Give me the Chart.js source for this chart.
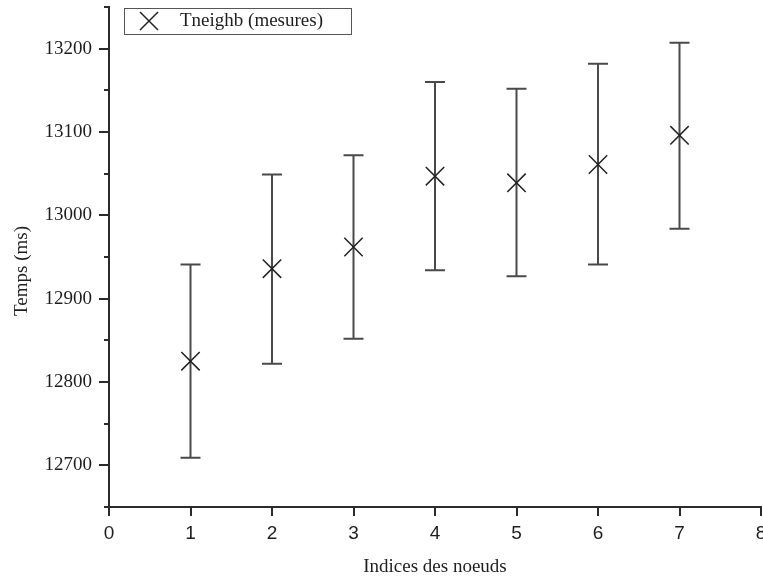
<!DOCTYPE html>
<html>
<head>
<meta charset="utf-8">
<script src="https://cdn.jsdelivr.net/npm/chart.js@4/dist/chart.umd.min.js"></script>
<style>
    html, body { margin:0; padding:0; background:#fff; }
    #grafica { display:block; }
</style>
</head>
<body>
<canvas id="grafica" width="763" height="579"></canvas>
<script>
// --datos
var indices   = [1, 2, 3, 4, 5, 6, 7];
var tiempos   = [12825, 12936, 12962, 13047, 13039, 13061, 13096];
var errorBajo = [12709, 12822, 12852, 12934, 12927, 12941, 12984];
var errorAlto = [12941, 13049, 13072, 13160, 13152, 13182, 13207];
var ticksX    = [0, 1, 2, 3, 4, 5, 6, 7, 8];

var colorEje = '#2b2b2b';
var colorTexto = '#1e1e1e';
var serif = "'Liberation Serif', 'Times New Roman', serif";
var sans = "'Liberation Sans', Arial, sans-serif";

var puntos = [];
indices.forEach(function(x, i){
    puntos.push({x: x, y: tiempos[i]});
});

function sinPadding(){
    return {left: 0, top: 0, right: 0, bottom: 0};
}

// barras de error y marcas de los ejes
var pluginExtras = {
    id: 'extras',
    beforeLayout: function(chart){
        // que las etiquetas no empujen el area del grafico (el "8" queda cortado)
        Object.keys(chart.scales).forEach(function(k){
            chart.scales[k].getPadding = sinPadding;
        });
    },
    beforeDatasetsDraw: function(chart){
        var ctx = chart.ctx;
        var sx = chart.scales.x;
        var sy = chart.scales.y;
        ctx.save();
        ctx.strokeStyle = '#4a4a4a';
        ctx.lineWidth = 2;
        indices.forEach(function(x, i){
            var px = sx.getPixelForValue(x);
            var yb = sy.getPixelForValue(errorBajo[i]);
            var ya = sy.getPixelForValue(errorAlto[i]);
            ctx.beginPath();
            ctx.moveTo(px, yb); ctx.lineTo(px, ya);
            ctx.moveTo(px - 10, ya); ctx.lineTo(px + 10, ya);
            ctx.moveTo(px - 10, yb); ctx.lineTo(px + 10, yb);
            ctx.stroke();
        });
        ctx.restore();
    },
    afterDraw: function(chart){
        var ctx = chart.ctx;
        var sx = chart.scales.x;
        var sy = chart.scales.y;
        var area = chart.chartArea;
        ctx.save();
        ctx.strokeStyle = colorEje;
        ctx.lineWidth = 2;
        ctx.beginPath();
        sy.ticks.forEach(function(t){
            var py = Math.round(sy.getPixelForValue(t.value));
            var largo = (t.value % 100 === 0) ? 10 : 5;
            ctx.moveTo(area.left, py); ctx.lineTo(area.left - largo, py);
        });
        ticksX.forEach(function(v){
            var px = Math.round(sx.getPixelForValue(v));
            ctx.moveTo(px, area.bottom); ctx.lineTo(px, area.bottom + 9);
        });
        ctx.stroke();

        // titulos de los ejes
        ctx.fillStyle = colorTexto;
        ctx.font = '19px ' + serif;
        ctx.textAlign = 'center';
        ctx.textBaseline = 'middle';
        ctx.fillText('Indices des noeuds', (area.left + area.right) / 2, 567);
        ctx.translate(22, 271);
        ctx.rotate(-Math.PI / 2);
        ctx.fillText('Temps (ms)', 0, 0);
        ctx.restore();

        // leyenda
        ctx.save();
        ctx.strokeStyle = '#555';
        ctx.lineWidth = 1;
        ctx.strokeRect(124.5, 8.5, 227, 26);
        ctx.strokeStyle = '#222';
        ctx.lineWidth = 1.5;
        ctx.beginPath();
        ctx.moveTo(140, 12); ctx.lineTo(158, 30);
        ctx.moveTo(158, 12); ctx.lineTo(140, 30);
        ctx.stroke();
        ctx.fillStyle = colorTexto;
        ctx.font = '19px ' + serif;
        ctx.textAlign = 'left';
        ctx.textBaseline = 'middle';
        ctx.fillText('Tneighb (mesures)', 180, 21);
        ctx.restore();
    }
};

var graficaCanvas = document.getElementById('grafica');

var grafica = new Chart(graficaCanvas, {
    type: 'scatter',
    data: {
        datasets: [{
            label: 'Tneighb (mesures)',
            data: puntos,
            pointStyle: 'crossRot',
            pointRadius: 13,
            pointHoverRadius: 13,
            borderColor: '#222',
            backgroundColor: '#222',
            pointBorderWidth: 1.5,
            showLine: false
        }]
    },
    options: {
        responsive: false,
        animation: false,
        events: [],
        layout: {autoPadding: false, padding: {top: 7, right: 2, left: 0, bottom: 0}},
        plugins: {
            legend: {display: false},
            tooltip: {enabled: false}
        },
        scales: {
            x: {
                type: 'linear',
                min: 0,
                max: 8,
                grid: {display: false, drawTicks: false},
                border: {display: true, color: colorEje, width: 2},
                ticks: {
                    stepSize: 1,
                    padding: 15,
                    color: colorTexto,
                    font: {family: sans, size: 19},
                    maxRotation: 0
                },
                afterFit: function(scale){
                    scale.height = 72;
                    scale.paddingLeft = 0;
                    scale.paddingRight = 0;
                }
            },
            y: {
                type: 'linear',
                min: 12650,
                max: 13250,
                grid: {display: false, drawTicks: false},
                border: {display: true, color: colorEje, width: 2},
                ticks: {
                    stepSize: 50,
                    autoSkip: false,
                    padding: 17,
                    color: colorTexto,
                    font: {family: serif, size: 19},
                    callback: function(value){
                        return (value % 100 === 0) ? value : '';
                    }
                },
                afterFit: function(scale){
                    scale.width = 109;
                    scale.paddingTop = 0;
                    scale.paddingBottom = 0;
                }
            }
        }
    },
    plugins: [pluginExtras]
});
</script>
</body>
</html>
